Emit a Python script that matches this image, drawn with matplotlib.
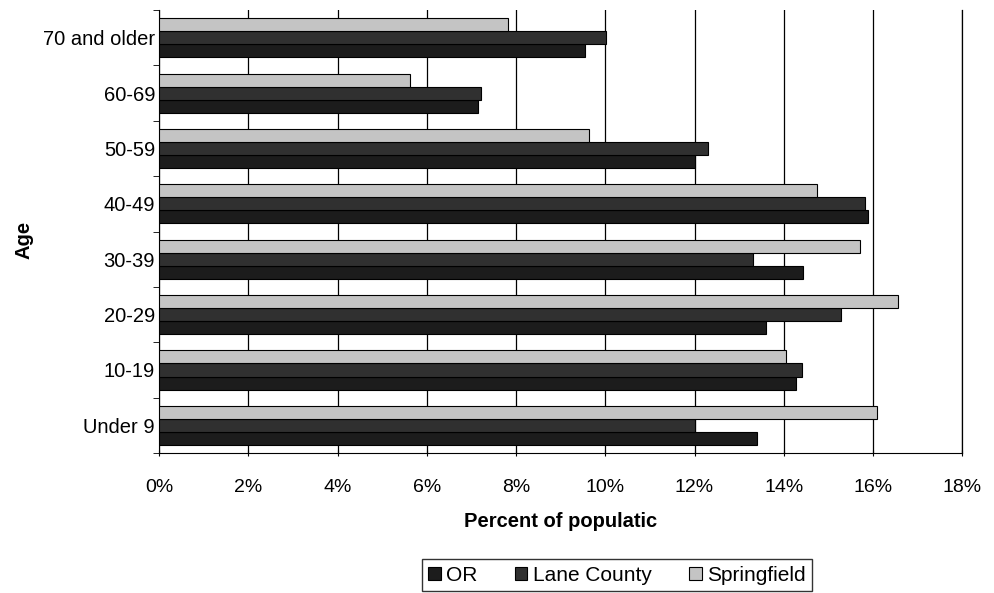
import numpy as np
import matplotlib
matplotlib.use("Agg")
import matplotlib.pyplot as plt

# age groups, bottom to top as drawn
ages = ['Under 9', '10-19', '20-29', '30-39', '40-49', '50-59', '60-69', '70 and older']
or_vals = [13.4, 14.28, 13.61, 14.44, 15.9, 12.0, 7.15, 9.55]
lane_vals = [12.0, 14.4, 15.29, 13.3, 15.83, 12.31, 7.22, 10.01]
spring_vals = [16.1, 14.06, 16.57, 15.7, 14.75, 9.64, 5.63, 7.83]

plt.rcParams['font.family'] = ['Liberation Sans', 'DejaVu Sans']

fig = plt.figure(figsize=(9.95, 5.93), dpi=100)
ax = fig.add_axes([0.160, 0.236, 0.807, 0.747])

y = np.arange(len(ages))
h = 0.235
ax.barh(y - h, or_vals, height=h, color='#1c1c1c', edgecolor='black', linewidth=0.8, label='OR', zorder=3)
ax.barh(y, lane_vals, height=h, color='#303030', edgecolor='black', linewidth=0.8, label='Lane County', zorder=3)
ax.barh(y + h, spring_vals, height=h, color='#c4c4c4', edgecolor='black', linewidth=0.8, label='Springfield', zorder=3)

ax.set_xlim(0, 18)
ax.set_ylim(-0.5, len(ages) - 0.5)
ax.set_xticks(np.arange(0, 19, 2))
ax.set_xticklabels(['%d%%' % v for v in range(0, 19, 2)], fontsize=14)
ax.set_yticks(y)
ax.set_yticklabels(ages, fontsize=14.5)
ax.set_yticks(np.arange(-0.5, len(ages), 1), minor=True)
ax.tick_params(axis='y', which='major', length=0, pad=3)
ax.tick_params(axis='y', which='minor', length=4, direction='out')
ax.tick_params(axis='x', length=4, direction='inout', pad=17)

ax.xaxis.grid(True, color='black', linewidth=0.9, zorder=0)
ax.spines['top'].set_visible(False)
ax.spines['right'].set_linewidth(0.9)

ax.set_xlabel('Percent of populatic', fontsize=14.5, fontweight='bold', labelpad=11)
ax.set_ylabel('Age', fontsize=14.5, fontweight='bold')
ax.yaxis.set_label_coords(-0.157, 0.48)

fig.legend(loc='center', bbox_to_anchor=(0.62, 0.03), ncol=3, fontsize=15,
           frameon=True, fancybox=False, edgecolor='black', handlelength=0.6,
           handleheight=0.6, handletextpad=0.25, columnspacing=1.8, borderpad=0.3)

plt.savefig('out.png', dpi=100)
